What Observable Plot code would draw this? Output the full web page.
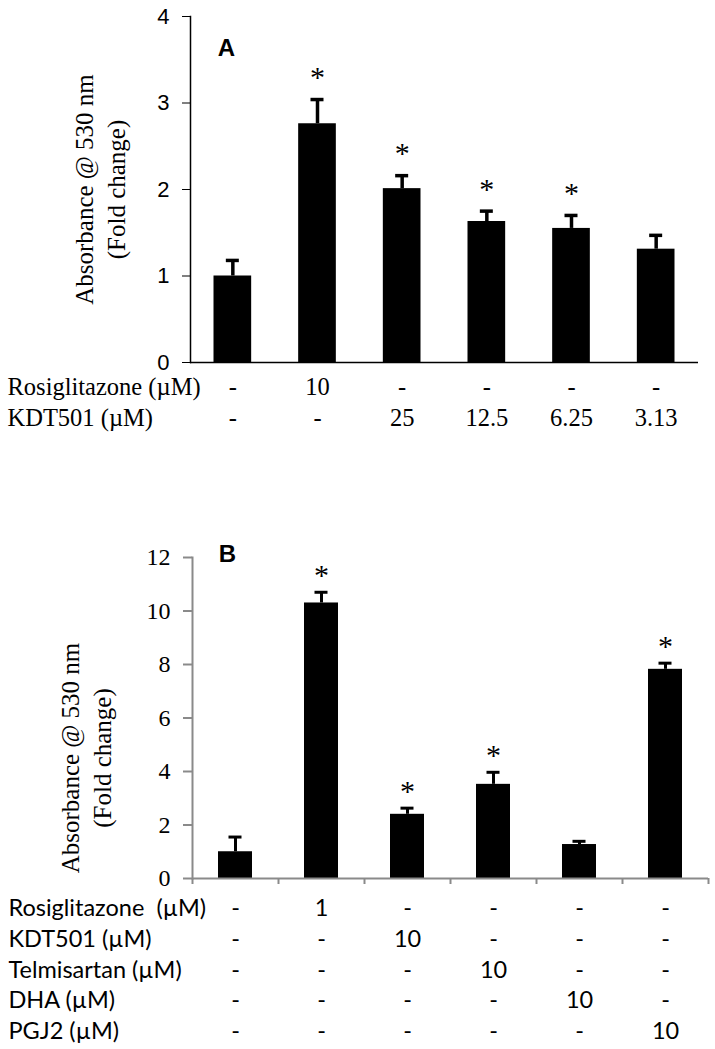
<!DOCTYPE html>
<html><head><meta charset="utf-8">
<script src="https://cdn.jsdelivr.net/npm/d3@7"></script>
<script src="https://cdn.jsdelivr.net/npm/@observablehq/plot@0.6"></script>
<style>
body{margin:0;background:#fff;}
#chart svg{display:block;}
</style></head><body><div id="chart"></div>
<script>
// ---------- Panel A data ----------
const groupsA = ["Control", "Rosiglitazone 10", "KDT501 25", "KDT501 12.5", "KDT501 6.25", "KDT501 3.13"];
const meanA = [1.00, 2.76, 2.01, 1.63, 1.55, 1.31];
const semA = [0.18, 0.28, 0.15, 0.12, 0.15, 0.16];
const sigA = [false, true, true, true, true, false];
const yTicksA = [0, 1, 2, 3, 4];
const rowLabelsA = ["Rosiglitazone (\u00b5M)", "KDT501 (\u00b5M)"];
const rowValsA = [
  ["-", "10", "-", "-", "-", "-"],
  ["-", "-", "25", "12.5", "6.25", "3.13"]
];
const panelA = "A";

// ---------- Panel B data ----------
const groupsB = ["Control", "Rosiglitazone 1", "KDT501 10", "Telmisartan 10", "DHA 10", "PGJ2 10"];
const meanB = [1.00, 10.30, 2.40, 3.52, 1.27, 7.82];
const semB = [0.55, 0.40, 0.23, 0.45, 0.12, 0.23];
const sigB = [false, true, true, true, false, true];
const yTicksB = [0, 2, 4, 6, 8, 10, 12];
const rowLabelsB = ["Rosiglitazone  (\u00b5M)", "KDT501 (\u00b5M)", "Telmisartan (\u00b5M)", "DHA (\u00b5M)", "PGJ2 (\u00b5M)"];
const rowValsB = [
  ["-", "1", "-", "-", "-", "-"],
  ["-", "-", "10", "-", "-", "-"],
  ["-", "-", "-", "10", "-", "-"],
  ["-", "-", "-", "-", "10", "-"],
  ["-", "-", "-", "-", "-", "10"]
];
const panelB = "B";
const yLabel = "Absorbance @ 530 nm\n(Fold change)";

const serif = "'Liberation Serif', 'Times New Roman', serif";
const sans = "'Liberation Sans', Arial, sans-serif";
const calibri = "Lato, 'Open Sans', sans-serif";

function build(groups, mean, sem, sig) {
  return groups.map((g, i) => ({i, group: g, mean: mean[i], top: mean[i] + sem[i], sig: sig[i]}));
}
function tableMarks(labels, vals, font, size, dy0, step, dxLabel) {
  const marks = [];
  labels.forEach((lab, r) => {
    const dy = dy0 + r * step;
    marks.push(Plot.text([lab], {frameAnchor: "bottom-left", textAnchor: "start", lineAnchor: "middle",
      dx: dxLabel, dy, fontFamily: font, fontSize: size, fill: "#000"}));
    marks.push(Plot.text(vals[r].map((v, i) => ({i, v})), {x: d => d.i + 0.5, text: "v", frameAnchor: "bottom",
      textAnchor: "middle", lineAnchor: "middle", dy, fontFamily: font, fontSize: size, fill: "#000"}));
  });
  return marks;
}

const dataA = build(groupsA, meanA, semA, sigA);
const plotA = Plot.plot({
  width: 715, height: 450,
  marginTop: 16, marginBottom: 88, marginLeft: 190, marginRight: 17,
  style: {background: "#fff", overflow: "visible"},
  x: {domain: [0, groupsA.length], axis: null},
  y: {domain: [0, 4]},
  marks: [
    Plot.rectY(dataA, {x1: "i", x2: d => d.i + 1, y: "mean", fill: "#000", insetLeft: 23.5, insetRight: 23.5}),
    Plot.ruleX(dataA, {x: d => d.i + 0.5, y1: "mean", y2: "top", stroke: "#000", strokeWidth: 3.5}),
    Plot.ruleY(dataA, {y: "top", x1: d => d.i + 0.5, x2: d => d.i + 0.5, insetLeft: -6.5, insetRight: -6.5, stroke: "#000", strokeWidth: 3.5}),
    Plot.text(dataA.filter(d => d.sig), {x: d => d.i + 0.5, y: "top", text: () => "*", dy: -22, fontSize: 30, fontFamily: serif, fill: "#000"}),
    Plot.axisY({ticks: yTicksA, tickFormat: d => String(d), tickSize: 8, tickPadding: 13, fontSize: 22, fontFamily: sans, stroke: "#000", fill: "#000", label: null}),
    Plot.frame({anchor: "left", stroke: "#000", strokeWidth: 1.5}),
    Plot.ruleY([0], {stroke: "#000", strokeWidth: 1.5}),
    Plot.text([panelA], {frameAnchor: "top-left", textAnchor: "middle", lineAnchor: "middle", dx: 36, dy: 32, fontSize: 24, fontWeight: "bold", fontFamily: sans, fill: "#000"}),
    Plot.text([yLabel], {frameAnchor: "left", textAnchor: "middle", lineAnchor: "middle", rotate: -90, dx: -92, lineHeight: 1.3, fontSize: 25, fontFamily: serif, fill: "#000"}),
    ...tableMarks(rowLabelsA, rowValsA, serif, 24.5, 25, 31, -183)
  ]
});

const dataB = build(groupsB, meanB, semB, sigB);
const gray = "#8a8a8a";
const plotB = Plot.plot({
  width: 715, height: 599,
  marginTop: 107, marginBottom: 171, marginLeft: 192, marginRight: 7,
  style: {background: "#fff", overflow: "visible"},
  x: {domain: [0, groupsB.length]},
  y: {domain: [0, 12]},
  marks: [
    Plot.rectY(dataB, {x1: "i", x2: d => d.i + 1, y: "mean", fill: "#000", insetLeft: 26, insetRight: 26}),
    Plot.ruleX(dataB, {x: d => d.i + 0.5, y1: "mean", y2: "top", stroke: "#000", strokeWidth: 3}),
    Plot.ruleY(dataB, {y: "top", x1: d => d.i + 0.5, x2: d => d.i + 0.5, insetLeft: -6.5, insetRight: -6.5, stroke: "#000", strokeWidth: 3}),
    Plot.text(dataB.filter(d => d.sig), {x: d => d.i + 0.5, y: "top", text: () => "*", dy: -17, fontSize: 30, fontFamily: serif, fill: "#000"}),
    Plot.axisY({ticks: yTicksB, tickFormat: d => String(d), tickSize: 9, tickPadding: 13, fontSize: 24, fontFamily: serif, stroke: gray, strokeWidth: 2, fill: "#000", label: null}),
    Plot.axisX({ticks: d3.range(groupsB.length + 1), tickSize: 6, tickFormat: () => "", stroke: gray, strokeWidth: 2, label: null}),
    Plot.frame({anchor: "left", stroke: gray, strokeWidth: 2}),
    Plot.ruleY([0], {stroke: gray, strokeWidth: 2}),
    Plot.text([panelB], {frameAnchor: "top-left", textAnchor: "middle", lineAnchor: "middle", dx: 35, dy: -3, fontSize: 24, fontWeight: "bold", fontFamily: sans, fill: "#000"}),
    Plot.text([yLabel], {frameAnchor: "left", textAnchor: "middle", lineAnchor: "middle", rotate: -90, dx: -108, dy: 40, lineHeight: 1.3, fontSize: 25, fontFamily: serif, fill: "#000"}),
    ...tableMarks(rowLabelsB, rowValsB, calibri, 23.5, 30, 30.8, -184)
  ]
});

const root = document.getElementById("chart");
root.appendChild(plotA);
root.appendChild(plotB);
</script>
</body></html>
